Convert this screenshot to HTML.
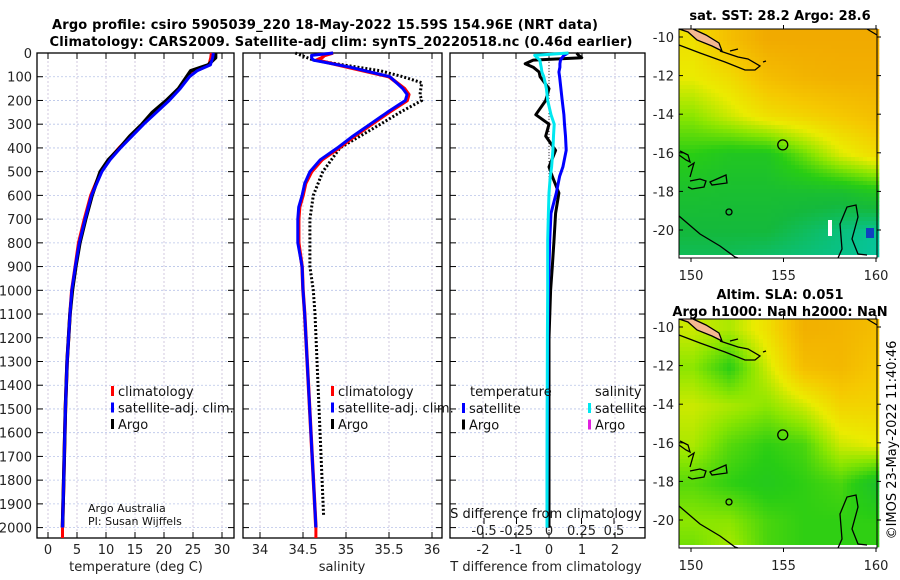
<!DOCTYPE html>
<html><head><meta charset="utf-8"><style>
html,body{margin:0;padding:0;background:#fff;}
svg{display:block;font-family:"DejaVu Sans","Liberation Sans",sans-serif;}
</style></head><body>
<svg id="fig" width="900" height="580" viewBox="0 0 900 580" xmlns="http://www.w3.org/2000/svg">
<text x="325" y="29" font-size="13" font-weight="bold" text-anchor="middle" textLength="546">Argo profile: csiro 5905039_220 18-May-2022 15.59S 154.96E (NRT data)</text>
<text x="341" y="46" font-size="13" font-weight="bold" text-anchor="middle" textLength="583">Climatology: CARS2009. Satellite-adj clim: synTS_20220518.nc (0.46d earlier)</text>
<g id="p1"></g>
<g id="p2"></g>
<g id="p3"></g>
<g id="m1"></g>
<g id="m2"></g>
<text x="896" y="440" font-size="13" text-anchor="middle" transform="rotate(-90 896 440)">©IMOS 23-May-2022 11:40:46</text>
</svg>
<script>
// ---- data ----
const depthTicks=[0,100,200,300,400,500,600,700,800,900,1000,1100,1200,1300,1400,1500,1600,1700,1800,1900,2000];
const tempTicks=[0,5,10,15,20,25,30];
const salTicks=[34,34.5,35,35.5,36];
const tdiffTicks=[-2,-1,0,1,2];
const sdiffTicks=[-0.5,-0.25,0,0.25,0.5];
const sdiffTickLabels=["-0.5","-0.25","0","0.25","0.5"];
const tDepth=[0,20,50,75,100,150,200,250,300,350,400,450,500,600,700,800,900,1000,1100,1300,1500,1800,2000];
const tClim=[28.2,28.1,27.8,25.5,24.3,22.6,20.7,18.5,16.3,14.3,12.3,10.5,9.1,7.4,6.3,5.3,4.7,4.1,3.8,3.3,3.0,2.7,2.5];
const tSat=[28.5,28.4,28.0,25.7,24.4,22.8,20.9,18.7,16.5,14.5,12.5,10.7,9.3,7.5,6.4,5.4,4.7,4.1,3.8,3.3,3.0,2.7,2.5];
const tArgo=[28.9,28.9,27.6,24.6,23.9,22.5,20.4,18.0,16.2,14.1,12.4,10.4,9.0,7.6,6.5,5.5,4.8,4.2,3.8,3.3,3.0,2.7,2.5];
const sDepth=[0,10,20,30,60,100,150,175,200,250,300,350,400,450,500,550,600,650,700,800,900,1000,1100,2000];
const sClim=[34.85,34.75,34.72,34.66,35.02,35.50,35.68,35.73,35.71,35.50,35.30,35.10,34.92,34.72,34.60,34.53,34.50,34.46,34.45,34.45,34.49,34.50,34.52,34.65];
const sSat=[34.85,34.60,34.60,34.62,35.05,35.51,35.66,35.71,35.69,35.48,35.28,35.08,34.90,34.70,34.58,34.52,34.49,34.45,34.44,34.44,34.49,34.50,34.52,34.65];
const sArgoDepth=[0,30,75,100,125,175,200,250,300,400,500,600,700,900,1000,1100,1950];
const sArgo=[34.41,34.62,35.40,35.66,35.88,35.86,35.88,35.63,35.40,34.93,34.73,34.62,34.58,34.58,34.62,34.64,34.74];
const dDepth=[0,10,20,30,45,60,80,100,150,200,260,300,350,410,480,520,590,675,790,900,1000,1200,1500,2000];
const dtSat=[0.58,0.45,0.40,0.35,0.33,0.33,0.30,0.32,0.36,0.40,0.45,0.47,0.50,0.52,0.42,0.32,0.22,0.06,0.02,0.0,-0.02,-0.04,-0.05,-0.06];
const dtArgo=[0.84,0.9,0.99,-0.48,-0.72,-0.48,-0.30,-0.27,0.0,-0.1,-0.4,0.0,-0.1,0.2,0.0,0.1,0.3,0.2,0.15,0.1,0.05,0.0,0.0,0.0];
const dsSat=[0.15,-0.11,-0.09,-0.07,-0.065,-0.06,-0.055,-0.04,-0.02,-0.01,0.015,0.04,0.035,0.03,0.02,0.01,0.0,-0.005,-0.01,-0.01,-0.01,-0.012,-0.014,-0.015];
const mapLatRows=[-10,-12,-14,-16,-18,-20,-21.5];
const mapLonCols=[150,152,154,156,158,160];
const sstField=[[0.7,0.85,0.95,0.95,0.95,0.95],[0.65,0.72,0.85,0.9,0.92,0.92],[0.5,0.6,0.7,0.75,0.8,0.85],[0.35,0.3,0.3,0.45,0.62,0.72],[0.25,0.24,0.24,0.24,0.24,0.3],[0.2,0.2,0.2,0.15,0.1,0.06],[0.15,0.15,0.12,0.1,0.08,0.05]];
const slaField=[[0.6,0.55,0.7,0.92,0.9,0.85],[0.5,0.35,0.6,0.85,0.88,0.8],[0.6,0.55,0.5,0.6,0.75,0.75],[0.55,0.42,0.36,0.4,0.6,0.65],[0.42,0.36,0.32,0.36,0.4,0.26],[0.5,0.5,0.4,0.36,0.36,0.36],[0.45,0.55,0.4,0.36,0.36,0.36]];
const lonTicks=[150,155,160];
const latTicks=[-10,-12,-14,-16,-18,-20];

// ---- helpers ----
const NS="http://www.w3.org/2000/svg";
function mk(parent,tag,attrs,txt){const e=document.createElementNS(NS,tag);for(const k in attrs)e.setAttribute(k,attrs[k]);if(txt!==undefined)e.textContent=txt;parent.appendChild(e);return e;}
const Y0=53,YS=0.2373,YB=538;
const yD=d=>Y0+d*YS;
function panel(g,x0,x1,xs,xticks,xlabels,gridXs,showDepthLabels){
  for(const d of depthTicks){const y=yD(d);
    const gl=mk(g,'line',{x1:x0,x2:x1,y1:y,y2:y,stroke:'#b8c4e8','stroke-width':0.8,'stroke-dasharray':'2,2'});
    
    mk(g,'line',{x1:x0,x2:x0+6,y1:y,y2:y,stroke:'#000'});mk(g,'line',{x1:x1-6,x2:x1,y1:y,y2:y,stroke:'#000'});
    if(showDepthLabels){const t=mk(g,'text',{x:x0-5,y:y+5,'font-size':13,'text-anchor':'end',fill:'#222'},String(d));
      }
  }
  for(const v of gridXs){const x=xs(v);
    const gl=mk(g,'line',{x1:x,x2:x,y1:Y0,y2:YB,stroke:'#c8bcd8','stroke-width':0.8,'stroke-dasharray':'2,2'});
    }
  xticks.forEach((v,i)=>{const x=xs(v);
    mk(g,'line',{x1:x,x2:x,y1:YB,y2:YB-6,stroke:'#000'});mk(g,'line',{x1:x,x2:x,y1:Y0,y2:Y0+6,stroke:'#000'});
    const t=mk(g,'text',{x:x,y:YB+16,'font-size':13,'text-anchor':'middle',fill:'#222'},xlabels[i]);
    });
  const r=mk(g,'rect',{x:x0,y:Y0,width:x1-x0,height:YB-Y0,fill:'none',stroke:'#000','stroke-width':1.3});
  
}
function line(g,xs,vals,depths,color,w,dash,name){
  const pts=vals.map((v,i)=>xs(v).toFixed(1)+','+yD(depths[i]).toFixed(1)).join(' ');
  const p=mk(g,'polyline',{points:pts,fill:'none',stroke:color,'stroke-width':w,'stroke-linejoin':'round'});
  if(dash)p.setAttribute('stroke-dasharray',dash);
  return p;
}
function legend(g,x,y,items){items.forEach((it,i)=>{const yy=y+i*16.5;
  const m=mk(g,'rect',{x:x,y:yy-6,width:3,height:10,fill:it[1]});
  
  const t=mk(g,'text',{x:x+7,y:yy+4,'font-size':13,fill:'#111'},it[0]);
  });}

// ---- panel 1: temperature ----
const p1=document.getElementById('p1');
const xT=v=>48+v*5.8;
panel(p1,37,234,xT,tempTicks,tempTicks.map(String),tempTicks,true);
line(p1,xT,tClim,tDepth,'#f00',3.5,null,'temperature-climatology-line');
line(p1,xT,tArgo,tDepth,'#000',3.5,null,'temperature-argo-line');
line(p1,xT,tSat,tDepth,'#0000ff',3,null,'temperature-satellite-line');
mk(p1,'line',{x1:xT(2.5),x2:xT(2.5),y1:yD(2000),y2:YB,stroke:'#f00','stroke-width':3});
legend(p1,111,392,[['climatology','#f00'],['satellite-adj. clim.','#00f'],['Argo','#000']]);
let t=mk(p1,'text',{x:88,y:512,'font-size':11,fill:'#111'},'Argo Australia');
t=mk(p1,'text',{x:88,y:525,'font-size':11,fill:'#111'},'PI: Susan Wijffels');
t=mk(p1,'text',{x:136,y:571,'font-size':13,'text-anchor':'middle',fill:'#222'},'temperature (deg C)');

// ---- panel 2: salinity ----
const p2=document.getElementById('p2');
const xS=v=>260+(v-34)*86;
panel(p2,243,442,xS,salTicks,salTicks.map(String),salTicks,false);
line(p2,xS,sArgo,sArgoDepth,'#000',3,'2,2','salinity-argo-line');
line(p2,xS,sClim,sDepth,'#f00',3.5,null,'salinity-climatology-line');
line(p2,xS,sSat,sDepth,'#0000ff',3,null,'salinity-satellite-line');
mk(p2,'line',{x1:xS(34.65),x2:xS(34.65),y1:yD(2000),y2:YB,stroke:'#f00','stroke-width':3});
legend(p2,331,392,[['climatology','#f00'],['satellite-adj. clim.','#00f'],['Argo','#000']]);
t=mk(p2,'text',{x:342,y:571,'font-size':13,'text-anchor':'middle',fill:'#222'},'salinity');

// ---- panel 3: differences ----
const p3=document.getElementById('p3');
const xDT=v=>549+v*33;
const xDS=v=>549+v*130;
panel(p3,450,645,xDT,tdiffTicks,tdiffTicks.map(String),tdiffTicks,false);
mk(p3,'line',{x1:549,x2:549,y1:Y0,y2:YB,stroke:'#333','stroke-width':1,'stroke-dasharray':'1,2'});
sdiffTicks.forEach((v,i)=>{const x=xDS(v);mk(p3,'line',{x1:x,x2:x,y1:YB-14,y2:YB-20,stroke:'#000'});
  const tt=mk(p3,'text',{x:x,y:YB-3,'font-size':13,'text-anchor':'middle',fill:'#222'},sdiffTickLabels[i]);
  });
line(p3,xDT,dtArgo,dDepth,'#000',3,null,'t-diff-argo-line');
line(p3,xDT,dtSat,dDepth,'#0000ff',3,null,'t-diff-satellite-line');
line(p3,xDS,dsSat,dDepth,'#00e8f0',3,null,'s-diff-satellite-line');
t=mk(p3,'text',{x:470,y:396,'font-size':13,fill:'#111'},'temperature');
t=mk(p3,'text',{x:595,y:396,'font-size':13,fill:'#111'},'salinity');
legend(p3,462,409,[['satellite','#00f'],['Argo','#000']]);
legend(p3,588,409,[['satellite','#00e8f0'],['Argo','#e020e0']]);
t=mk(p3,'text',{x:546,y:518,'font-size':13,'text-anchor':'middle',fill:'#111'},'S difference from climatology');
t=mk(p3,'text',{x:546,y:571,'font-size':13,'text-anchor':'middle',fill:'#222'},'T difference from climatology');

// ---- maps ----
const pal=[[0,[0,200,190]],[0.2,[20,185,60]],[0.35,[40,205,20]],[0.5,[140,230,0]],[0.65,[235,235,0]],[0.8,[245,200,0]],[1,[240,160,0]]];
function col(v){v=Math.max(0,Math.min(1,v));for(let i=1;i<pal.length;i++){if(v<=pal[i][0]){const a=pal[i-1],b=pal[i],f=(v-a[0])/(b[0]-a[0]);
  return 'rgb('+a[1].map((c,j)=>Math.round(c+(b[1][j]-c)*f)).join(',')+')';}}return 'rgb(240,160,0)';}
function field(F,lat,lon){let r=0;while(r<mapLatRows.length-2&&lat<mapLatRows[r+1])r++;
  const fr=Math.max(0,Math.min(1,(mapLatRows[r]-lat)/(mapLatRows[r]-mapLatRows[r+1])));
  let c=Math.max(0,Math.min(4,Math.floor((lon-150)/2)));const fc=Math.max(0,Math.min(1,(lon-mapLonCols[c])/2));
  const a=F[r][c]*(1-fc)+F[r][c+1]*fc,b=F[r+1][c]*(1-fc)+F[r+1][c+1]*fc;return a*(1-fr)+b*fr;}
function map(id,oy,F,titles,pix){
  const g=document.getElementById(id);
  const L=679,R=877,T=oy+29,B=oy+258;
  const xL=lon=>691+(lon-150)*18.5, yL=lat=>oy+37+(-10-lat)*19.3;
  const im=mk(g,'g',{});
  for(let y=T;y<B-2;y+=pix)for(let x=L;x<R;x+=pix){
    const lon=150+(x-691)/18.5, lat=-10-(y-oy-37)/19.3;
    mk(im,'rect',{x:x,y:y,width:pix+0.3,height:pix+0.3,fill:col(field(F,lat,lon))});}
  mk(g,'rect',{x:L,y:B-3,width:R-L,height:3,fill:'#fff'});
  const c=mk(g,'g',{fill:'none',stroke:'#000','stroke-width':1.3});
  
  mk(c,'path',{d:`M${L},${T} L688,${T+3} L697,${T+11} L712,${T+17} L722,${T+22} L719,${T+14} L706,${T+6} L693,${T}`,fill:'#f4b890'});
  mk(c,'path',{d:`M${L},${T+16} L700,${T+24} L725,${T+33} L745,${T+41} L755,${T+41} L760,${T+37} L748,${T+30} L738,${T+28} L720,${T+22}`});
  mk(c,'path',{d:`M730,${T+22} L738,${T+20} M763,${T+33} L766,${T+32}`});
  mk(c,'path',{d:`M${L},${T+126} L686,${T+131} L690,${T+133} L688,${T+126} L680,${T+122}`});
  mk(c,'path',{d:`M688,${T+138} L694,${T+134} L690,${T+148} M690,${T+152} L700,${T+150} L706,${T+152} L704,${T+158} L692,${T+160} L688,${T+158}`});
  mk(c,'path',{d:`M710,${T+153} L726,${T+146} L727,${T+154} L712,${T+156} Z`});
  mk(c,'ellipse',{cx:729,cy:T+183,rx:3,ry:3});
  mk(c,'path',{d:`M${L},${T+187} L700,${T+205} L720,${T+217} L735,${T+228} L738,${B}`});
  mk(c,'path',{d:`M838,${B} L842,${T+220} L840,${T+195} L847,${T+178} L856,${T+176} L858,${T+188} L852,${T+210} L858,${T+225} L867,${B-3}`});
  mk(c,'path',{d:`M${R-10},${T} L${R},${T+6}`});
  const ci=mk(g,'circle',{cx:xL(154.96),cy:yL(-15.59),r:5,fill:'none',stroke:'#000','stroke-width':1.3});
  
  const fr=mk(g,'rect',{x:L,y:T,width:R-L,height:B-T,fill:'none',stroke:'#000','stroke-width':1});
  
  for(const lat of latTicks){const y=yL(lat);mk(g,'line',{x1:L,x2:L+4,y1:y,y2:y,stroke:'#000'});mk(g,'line',{x1:R,x2:R+4,y1:y,y2:y,stroke:'#000'});
    const tl=mk(g,'text',{x:L-5,y:y+5,'font-size':13,'text-anchor':'end',fill:'#222'},String(lat));
    }
  for(const lon of lonTicks){const x=xL(lon);mk(g,'line',{x1:x,x2:x,y1:B,y2:B+4,stroke:'#000'});mk(g,'line',{x1:x,x2:x,y1:T-4,y2:T,stroke:'#000'});
    const tl=mk(g,'text',{x:x,y:B+22,'font-size':13,'text-anchor':'middle',fill:'#222'},String(lon));
    }
  titles.forEach((s,i)=>{const tt=mk(g,'text',{x:780,y:oy+(titles.length==1?20:9+i*17),'font-size':13,'font-weight':'bold','text-anchor':'middle'},s);
    });
  return g;
}
const g1=map('m1',0,sstField,['sat. SST: 28.2 Argo: 28.6'],4);
mk(g1,'rect',{x:828,y:220,width:4,height:16,fill:'#fff'});
mk(g1,'rect',{x:866,y:228,width:8,height:10,fill:'#1040c0'});
map('m2',290,slaField,['Altim. SLA: 0.051','Argo h1000: NaN h2000: NaN'],4);
</script>
</body></html>
